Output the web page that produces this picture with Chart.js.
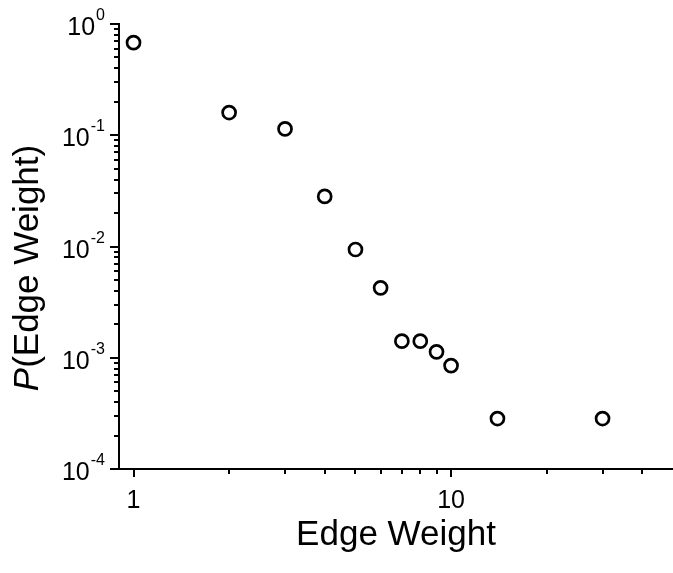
<!DOCTYPE html>
<html>
<head>
<meta charset="utf-8">
<title>P(Edge Weight)</title>
<script src="https://cdn.jsdelivr.net/npm/chart.js@4/dist/chart.umd.min.js"></script>
<style>
  html, body { margin: 0; padding: 0; background: #fff; }
  #wrap { width: 673px; height: 573px; position: relative; }
</style>
</head>
<body>
<div id="wrap"><canvas id="edgeChart"></canvas></div>
<script>
// values
const edgeWeights = [1, 2, 3, 4, 5, 6, 7, 8, 9, 10, 14, 30];
const probabilities = [0.68, 0.16, 0.114, 0.0282, 0.0094, 0.00425, 0.00141, 0.00141, 0.00113, 0.00085, 0.000284, 0.000284];

const xMajorTicks = [1, 10];
const xMinorTicks = [2, 3, 4, 5, 6, 7, 8, 9, 20, 30, 40];
const yExponents = [0, -1, -2, -3, -4];

const FONT = '"Liberation Sans", Arial, Helvetica, sans-serif';

// draws tick marks, superscript labels and axis titles
const logAxesPlugin = {
  id: "logAxes",
  afterDraw(chart) {
    const ctx = chart.ctx;
    const xs = chart.scales.x;
    const ys = chart.scales.y;
    const area = chart.chartArea;

    ctx.save();
    ctx.strokeStyle = "#000";
    ctx.fillStyle = "#000";
    ctx.lineWidth = 2;

    const tick = (x1, y1, x2, y2) => {
      ctx.beginPath();
      ctx.moveTo(x1, y1);
      ctx.lineTo(x2, y2);
      ctx.stroke();
    };

    // x ticks
    xMajorTicks.forEach((v) => {
      const px = Math.round(xs.getPixelForValue(v));
      tick(px, area.bottom, px, area.bottom + 8);
    });
    xMinorTicks.forEach((v) => {
      const px = Math.round(xs.getPixelForValue(v));
      tick(px, area.bottom, px, area.bottom + 5);
    });

    // y ticks
    yExponents.forEach((e) => {
      const py = Math.round(ys.getPixelForValue(Math.pow(10, e)));
      tick(area.left - 9, py, area.left, py);
      if (e > -4) {
        for (let m = 2; m <= 9; m++) {
          const my = Math.round(ys.getPixelForValue(m * Math.pow(10, e - 1)));
          tick(area.left - 5, my, area.left, my);
        }
      }
    });

    // x labels
    ctx.font = "25px " + FONT;
    ctx.textAlign = "center";
    ctx.textBaseline = "alphabetic";
    xMajorTicks.forEach((v) => {
      ctx.fillText(String(v), xs.getPixelForValue(v), 508);
    });

    // y labels: 10 with superscript exponent
    ctx.textAlign = "right";
    yExponents.forEach((e) => {
      const py = ys.getPixelForValue(Math.pow(10, e));
      const exp = e === 0 ? "0" : "-" + Math.abs(e);
      ctx.font = "16px " + FONT;
      const ew = ctx.measureText(exp).width;
      ctx.fillText(exp, 105, py - 4);
      ctx.font = "25px " + FONT;
      ctx.fillText("10", 105 - ew - 1, py + 11);
    });

    // x title
    ctx.font = "35px " + FONT;
    ctx.textAlign = "center";
    ctx.fillText("Edge Weight", (area.left + area.right) / 2, 545);

    // y title, italic P
    ctx.translate(38, 268);
    ctx.rotate(-Math.PI / 2);
    ctx.font = "italic 35px " + FONT;
    const pw = ctx.measureText("P").width;
    ctx.font = "35px " + FONT;
    const rest = "(Edge Weight)";
    const rw = ctx.measureText(rest).width;
    const start = -(pw + rw) / 2;
    ctx.textAlign = "left";
    ctx.font = "italic 35px " + FONT;
    ctx.fillText("P", start, 0);
    ctx.font = "35px " + FONT;
    ctx.fillText(rest, start + pw, 0);

    ctx.restore();
  },
};

const ctx = document.getElementById("edgeChart");
new Chart(ctx, {
  type: "scatter",
  data: {
    datasets: [
      {
        label: "P(Edge Weight)",
        data: edgeWeights.map((w, i) => ({ x: w, y: probabilities[i] })),
        pointStyle: "circle",
        pointRadius: 6.5,
        pointHoverRadius: 6.5,
        borderWidth: 2.7,
        borderColor: "#000",
        backgroundColor: "#fff",
      },
    ],
  },
  options: {
    responsive: true,
    maintainAspectRatio: false,
    animation: false,
    layout: { autoPadding: false, padding: { top: 24, right: 0, left: 0, bottom: 0 } },
    plugins: {
      legend: { display: false },
      tooltip: { enabled: false },
    },
    scales: {
      x: {
        type: "logarithmic",
        min: 0.9,
        max: 50,
        grid: { display: false },
        ticks: { display: false },
        border: { display: true, color: "#000", width: 2 },
        afterFit: (scale) => { scale.height = 104; },
      },
      y: {
        type: "logarithmic",
        min: 0.0001,
        max: 1,
        grid: { display: false },
        ticks: { display: false },
        border: { display: true, color: "#000", width: 2 },
        afterFit: (scale) => { scale.width = 119; },
      },
    },
  },
  plugins: [logAxesPlugin],
});
</script>
</body>
</html>
